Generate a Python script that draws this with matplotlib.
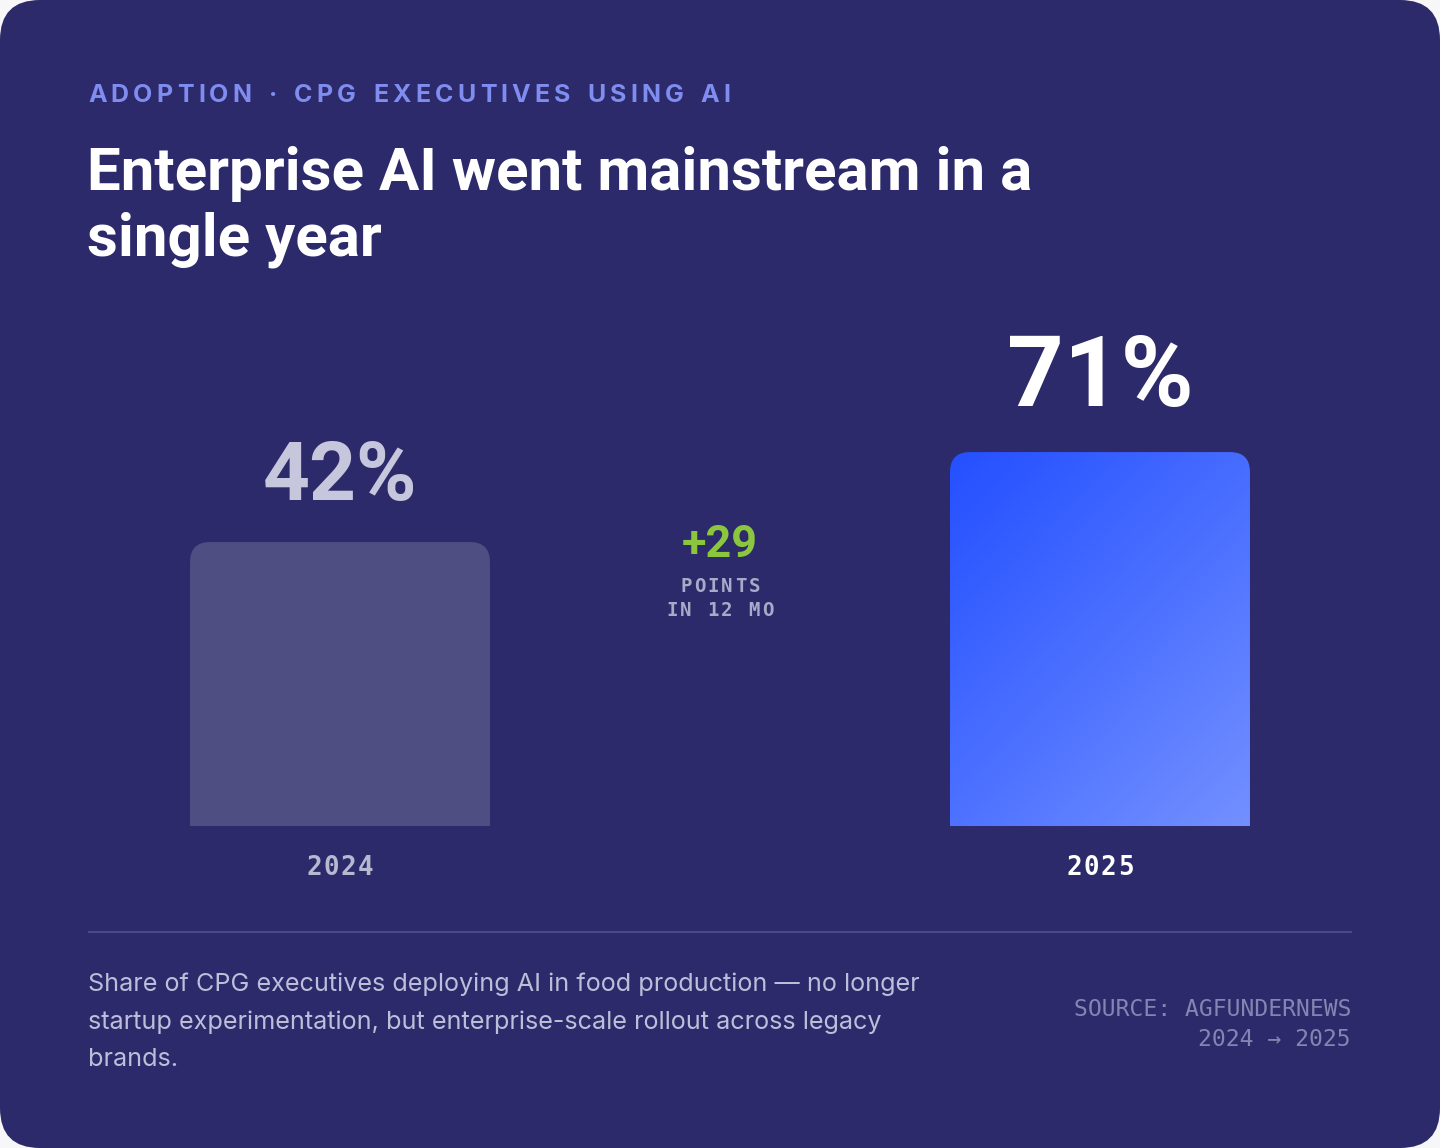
import matplotlib
matplotlib.use('Agg')
import matplotlib.pyplot as plt
import numpy as np
from matplotlib.patches import FancyBboxPatch
from matplotlib.colors import LinearSegmentedColormap

# ---------------- data ----------------
years = ['2024', '2025']
values = [42, 71]
value_labels = ['42%', '71%']
delta_label = '+29'
delta_sub = ['POINTS', 'IN 12 MO']
kicker = 'ADOPTION · CPG EXECUTIVES USING AI'
title_lines = ['Enterprise AI went mainstream in a', 'single year']
caption_lines = ['Share of CPG executives deploying AI in food production — no longer',
                 'startup experimentation, but enterprise-scale rollout across legacy',
                 'brands.']
source_lines = ['SOURCE: AGFUNDERNEWS', '2024 → 2025']

# ---------------- style ----------------
W, H = 1440, 1148
CARD = '#2C2A6A'
SANS = ['Inter', 'DejaVu Sans']
HEAD = ['Roboto', 'DejaVu Sans']
MONO = ['DejaVu Sans Mono']
PX = 72 / 100  # points per pixel

fig = plt.figure(figsize=(W / 100, H / 100), dpi=100)
fig.patch.set_facecolor('#F7F7FA')

bg = fig.add_axes([0, 0, 1, 1])
bg.set_xlim(0, W)
bg.set_ylim(H, 0)
bg.axis('off')
bg.add_patch(FancyBboxPatch((0, 0), W, H, boxstyle='round,pad=0,rounding_size=40',
                            fc=CARD, ec='none'))

renderer = fig.canvas.get_renderer()


def char_widths(ax, s, **kw):
    ws = []
    for ch in s:
        if ch == ' ':
            t = ax.text(0, 0, 'n', **kw)
            w = t.get_window_extent(renderer).width * (1.0 if kw.get('family') == MONO else 0.55)
        else:
            t = ax.text(0, 0, ch, **kw)
            w = t.get_window_extent(renderer).width
        t.remove()
        ws.append(w)
    return ws


def spaced(ax, x, y, s, tracking, align='left', **kw):
    ws = char_widths(ax, s, **kw)
    total = sum(ws) + tracking * (len(s) - 1)
    cx = x if align == 'left' else x - total / 2
    for ch, w in zip(s, ws):
        if ch != ' ':
            ax.text(cx, y, ch, ha='left', **kw)
        cx += w + tracking


# kicker
spaced(bg, 88, 96, kicker, 4.25, color='#7F8CF0', fontsize=25 * PX,
       fontweight='bold', family=SANS, va='center')

# title
for i, line in enumerate(title_lines):
    bg.text(87, 190 + i * 66, line, color='white', fontsize=60 * PX, fontweight='bold',
            family=HEAD, va='baseline', ha='left')

# ---------------- bars ----------------
left_px, right_px = 88, 1352
base_px, top_px = 826, 300
ax = fig.add_axes([left_px / W, (H - base_px) / H, (right_px - left_px) / W, (base_px - top_px) / H])
ax.axis('off')
ax.patch.set_alpha(0)
BASE = -49.5
XL = (-0.3316, 1.3316)
YL = (BASE, 120)
ax.set_xlim(*XL)
ax.set_ylim(*YL)

xs = np.arange(len(values))
bars = ax.bar(xs, [v - BASE for v in values], bottom=BASE, width=0.3947)

xppu = (right_px - left_px) / (XL[1] - XL[0])
yppu = (base_px - top_px) / (YL[1] - YL[0])
aspect = xppu / yppu
r = 20 / xppu

grad_cmap = LinearSegmentedColormap.from_list('g', ['#2450FF', '#4A6FFF', '#7390FF'])
u, v = np.meshgrid(np.linspace(0, 1, 200), np.linspace(0, 1, 200))
grad = (u * 0.45 + v * 0.55)

for i, rect in enumerate(bars):
    x0, y0 = rect.get_x(), rect.get_y()
    w, h = rect.get_width(), rect.get_height()
    rect.set_visible(False)
    ext = 30 / yppu
    fc = '#4E4E82' if i == 0 else 'none'
    p = FancyBboxPatch((x0, y0 - ext), w, h + ext,
                       boxstyle=f'round,pad=0,rounding_size={r}',
                       mutation_aspect=aspect, fc=fc, ec='none')
    ax.add_patch(p)
    if i == 1:
        im = ax.imshow(grad, extent=(x0, x0 + w, y0, y0 + h), cmap=grad_cmap,
                       aspect='auto', origin='upper', interpolation='bilinear', zorder=1)
        im.set_clip_path(p)

ax.set_xlim(*XL)
ax.set_ylim(*YL)

# value labels
lab_col = ['#C6C6DC', 'white']
lab_size = [82, 99]
lab_off = [42, 46]
for i, (xv, yv) in enumerate(zip(xs, values)):
    ax.annotate(value_labels[i], (xv, yv), xytext=(0, lab_off[i] * PX), textcoords='offset points',
                ha='center', va='baseline', color=lab_col[i], fontsize=lab_size[i] * PX,
                fontweight='bold', family=HEAD, annotation_clip=False)

# year labels
yr_col = ['#B8B8D0', 'white']
for i, xv in enumerate(xs):
    xp = left_px + (xv - XL[0]) * xppu
    spaced(bg, xp, 868, years[i], 1.5, align='center', va='center',
           color=yr_col[i], fontsize=26 * PX, fontweight='bold', family=MONO)

# delta annotation
mid = xs.mean()
mid_px = left_px + (mid - XL[0]) * xppu
bg.text(mid_px, 557, delta_label, ha='center', va='baseline', color='#8CC63F',
        fontsize=45 * PX, fontweight='bold', family=HEAD)
for j, line in enumerate(delta_sub):
    spaced(bg, mid_px, 586 + j * 24, line, 2.2, align='center', va='center', color='#A9A9C9',
           fontsize=19 * PX, fontweight='bold', family=MONO)

# separator
bg.plot([88, 1352], [932, 932], color='#4A4A86', lw=1.5, solid_capstyle='butt')

# caption
for j, line in enumerate(caption_lines):
    bg.text(88, 984 + j * 38, line, ha='left', va='center', color='#BEBEDA',
            fontsize=25.2 * PX, family=SANS)

# source
for j, line in enumerate(source_lines):
    bg.text(1351, 1009 + j * 30, line, ha='right', va='center', color='#8585B3',
            fontsize=23 * PX, family=MONO)

fig.savefig('out.png', dpi=100, facecolor=fig.get_facecolor())
